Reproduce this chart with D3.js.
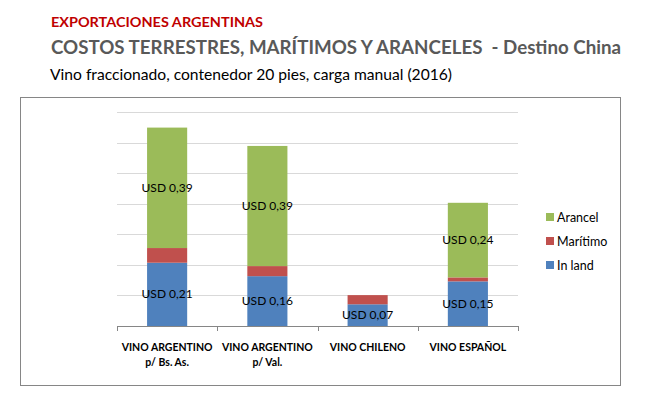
<!DOCTYPE html>
<html>
<head>
<meta charset="utf-8">
<script src="https://cdn.jsdelivr.net/npm/d3@7"></script>
<style>
  body { margin: 0; background: #fff; }
  svg { display: block; font-family: Lato, "Open Sans", sans-serif; }
</style>
</head>
<body>
<svg id="chart" width="645" height="399"></svg>
<script>
// categories (two lines each)
var categories = ["VINO ARGENTINO|p/ Bs. As.", "VINO ARGENTINO|p/ Val.", "VINO CHILENO", "VINO ESPAÑOL"];
// series values in USD
var inland   = [0.207, 0.163, 0.071, 0.146];
var maritimo = [0.048, 0.033, 0.030, 0.013];
var arancel  = [0.394, 0.393, 0.000, 0.244];
var seriesNames  = ["In land", "Marítimo", "Arancel"];
var seriesColors = ["#4f81bd", "#c0504d", "#9bbb59"];
var gridTicks = [0.1, 0.2, 0.3, 0.4, 0.5, 0.6, 0.7];

var svg = d3.select("#chart");

svg.append("rect").attr("width", 645).attr("height", 399).attr("fill", "#fff");

// titles
svg.append("text").attr("x", 51).attr("y", 27)
  .attr("font-size", 13.5).attr("font-weight", "bold").attr("fill", "#c00000")
  .attr("textLength", 212).attr("lengthAdjust", "spacingAndGlyphs")
  .text("EXPORTACIONES ARGENTINAS");
svg.append("text").attr("x", 51).attr("y", 54)
  .attr("font-size", 19.5).attr("font-weight", "bold").attr("fill", "#595959")
  .style("white-space", "pre")
  .attr("textLength", 570).attr("lengthAdjust", "spacingAndGlyphs")
  .text("COSTOS TERRESTRES, MARÍTIMOS Y ARANCELES  - Destino China");
svg.append("text").attr("x", 50).attr("y", 80)
  .attr("font-size", 16).attr("fill", "#000")
  .attr("textLength", 402).attr("lengthAdjust", "spacingAndGlyphs")
  .text("Vino fraccionado, contenedor 20 pies, carga manual (2016)");

// chart frame
svg.append("rect").attr("x", 20.5).attr("y", 97.5).attr("width", 600).attr("height", 288)
  .attr("fill", "none").attr("stroke", "#868686");

var x0 = 117, x1 = 518, yTop = 112, yBase = 326;

var x = d3.scaleBand().domain(d3.range(categories.length)).range([x0, x1]).padding(0);
var y = d3.scaleLinear().domain([0, 0.7]).range([yBase, yTop]);

// gridlines
svg.append("g").selectAll("line").data(gridTicks).enter().append("line")
  .attr("x1", x0).attr("x2", x1)
  .attr("y1", function(d) { return Math.round(y(d)) + 0.5; })
  .attr("y2", function(d) { return Math.round(y(d)) + 0.5; })
  .attr("stroke", "#d9d9d9");

// stacked bars
var table = categories.map(function(c, i) {
  return { i: i, "In land": inland[i], "Marítimo": maritimo[i], "Arancel": arancel[i] };
});
var stack = d3.stack().keys(seriesNames)(table);
var barW = x.bandwidth() * 0.4;

var layers = svg.append("g").selectAll("g").data(stack).enter().append("g")
  .attr("fill", function(d, k) { return seriesColors[k]; });

layers.selectAll("rect").data(function(d) { return d; }).enter().append("rect")
  .attr("x", function(d) { return x(d.data.i) + (x.bandwidth() - barW) / 2; })
  .attr("width", barW)
  .attr("y", function(d) { return y(d[1]); })
  .attr("height", function(d) { return y(d[0]) - y(d[1]); });

// data labels (In land and Arancel)
var fmt = d3.format(".2f");
[0, 2].forEach(function(k) {
  svg.append("g").selectAll("text").data(stack[k].filter(function(d) { return d[1] - d[0] > 0; }))
    .enter().append("text")
    .attr("x", function(d) { return x(d.data.i) + x.bandwidth() / 2; })
    .attr("y", function(d) { return (y(d[0]) + y(d[1])) / 2 + 4; })
    .attr("text-anchor", "middle").attr("font-size", 12).attr("fill", "#000")
    .text(function(d) { return "USD " + fmt(d[1] - d[0]).replace(".", ","); });
});

// x axis
var axis = svg.append("g").attr("transform", "translate(0," + yBase + ")");
axis.append("line").attr("x1", x0).attr("x2", x1).attr("y1", 0.5).attr("y2", 0.5).attr("stroke", "#868686");
var bounds = d3.range(categories.length + 1).map(function(i) { return x0 + i * x.step(); });
axis.selectAll(".tk").data(bounds).enter().append("line")
  .attr("x1", function(d) { return Math.round(d) + 0.5; })
  .attr("x2", function(d) { return Math.round(d) + 0.5; })
  .attr("y1", 0).attr("y2", 5).attr("stroke", "#868686");

var labels = axis.selectAll(".lbl").data(categories).enter().append("text")
  .attr("text-anchor", "middle").attr("font-size", 10.5).attr("font-weight", "bold").attr("fill", "#000")
  .attr("transform", function(d, i) { return "translate(" + (x(i) + x.bandwidth() / 2) + ",25)"; });
labels.selectAll("tspan").data(function(d) { return d.split("|"); }).enter().append("tspan")
  .attr("x", 0).attr("dy", function(d, j) { return j ? 14.5 : 0; })
  .text(function(d) { return d; });

// legend
var legend = svg.append("g").selectAll("g").data(seriesNames.slice().reverse()).enter().append("g")
  .attr("transform", function(d, i) { return "translate(546," + (217 + i * 24) + ")"; });
legend.append("rect").attr("x", 0).attr("y", -4).attr("width", 8).attr("height", 8)
  .attr("fill", function(d) { return seriesColors[seriesNames.indexOf(d)]; });
legend.append("text").attr("x", 11).attr("y", 4.5).attr("font-size", 12.5).attr("fill", "#000")
  .text(function(d) { return d; });
</script>
</body>
</html>
